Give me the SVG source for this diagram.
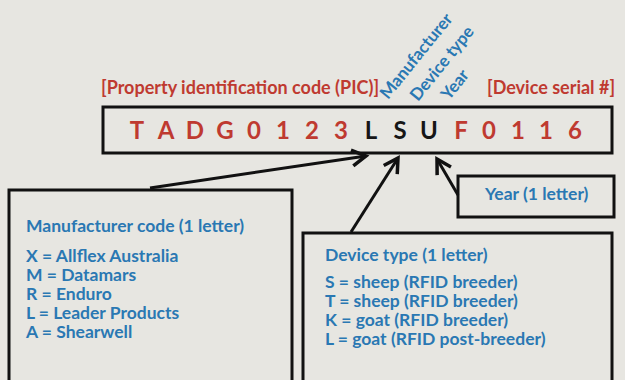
<svg xmlns="http://www.w3.org/2000/svg" width="625" height="380" viewBox="0 0 625 380">
<style>
  text { font-family: Lato, "Open Sans", "Liberation Sans", sans-serif; font-weight: bold; }
  .red { fill: #bf3a30; }
  .blue { fill: #2a78b3; }
  .box { fill: none; stroke: #111; stroke-width: 3; }
  .code { font-size: 24px; }
  .lbl { font-size: 18px; }
  .rot { font-size: 17px; }
  .body { font-size: 17.5px; }
  .conn { stroke: #111; stroke-width: 3; fill: none; marker-end: url(#arr); }
</style>
<defs>
  <marker id="arr" markerUnits="userSpaceOnUse" markerWidth="22" markerHeight="22" refX="0" refY="0" viewBox="-18 -11 22 22" orient="auto">
    <path d="M-14,-8 L0,0 L-14,8" fill="none" stroke="#111" stroke-width="3.5" stroke-linejoin="miter"/>
  </marker>
</defs>
<rect width="625" height="380" fill="#e7e6e1"/>

<g id="labels">
  <text class="red lbl" x="101" y="94">[Property identification code (PIC)]</text>
  <text class="red lbl" x="487" y="94">[Device serial #]</text>
  <text class="blue rot" transform="translate(388,100) rotate(-51)">Manufacturer</text>
  <text class="blue rot" transform="translate(418,102) rotate(-51)">Device type</text>
  <text class="blue rot" transform="translate(449,101) rotate(-51)">Year</text>
</g>

<g id="code-box">
  <rect class="box" x="103" y="107" width="509" height="46"/>
  <text class="code red" text-anchor="middle" y="139" x="137 166 195 225 254 283 312 341">TADG0123</text>
  <text class="code" fill="#161616" text-anchor="middle" y="139" x="371 400 429">LSU</text>
  <text class="code red" text-anchor="middle" y="139" x="461 489 518 546 575">F0116</text>
</g>

<g id="connectors">
  <line class="conn" x1="150" y1="188" x2="366" y2="156"/>
  <line class="conn" x1="351" y1="232" x2="398" y2="158"/>
  <line class="conn" x1="458" y1="195" x2="437" y2="159"/>
</g>

<g id="year-box">
  <rect class="box" x="458" y="176" width="156" height="41"/>
  <text class="blue body" x="485" y="200">Year (1 letter)</text>
</g>

<g id="manufacturer-box">
  <rect class="box" x="9" y="190" width="283" height="200"/>
  <text class="blue body" x="26" y="232">Manufacturer code (1 letter)</text>
  <text class="blue body" x="26" y="262">X = Allflex Australia</text>
  <text class="blue body" x="26" y="281">M = Datamars</text>
  <text class="blue body" x="26" y="300">R = Enduro</text>
  <text class="blue body" x="26" y="319">L = Leader Products</text>
  <text class="blue body" x="26" y="338">A = Shearwell</text>
</g>

<g id="device-box">
  <rect class="box" x="303" y="233" width="309" height="160"/>
  <text class="blue body" x="325" y="261">Device type (1 letter)</text>
  <text class="blue body" x="325" y="288">S = sheep (RFID breeder)</text>
  <text class="blue body" x="325" y="307">T = sheep (RFID breeder)</text>
  <text class="blue body" x="325" y="326">K = goat (RFID breeder)</text>
  <text class="blue body" x="325" y="345">L = goat (RFID post-breeder)</text>
</g>
</svg>
